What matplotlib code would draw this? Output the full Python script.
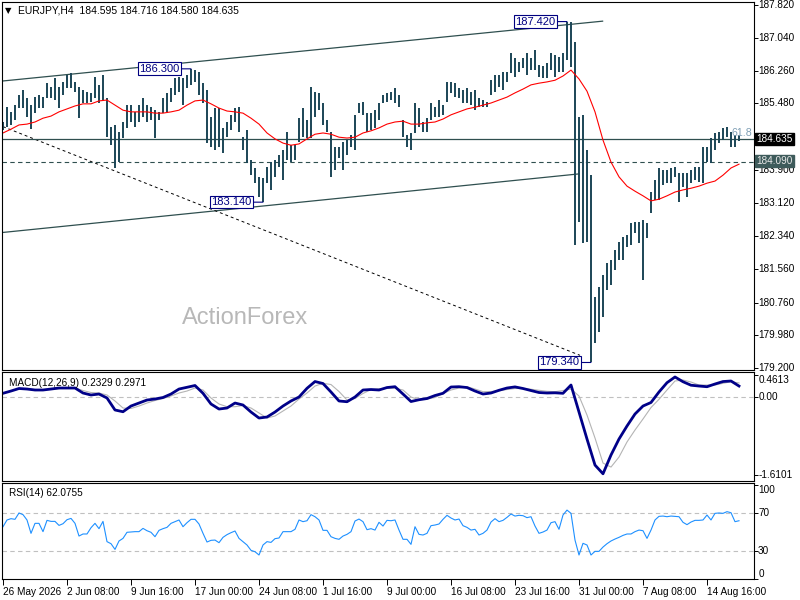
import numpy as np
import matplotlib
matplotlib.use("Agg")
import matplotlib.pyplot as plt

plt.rcParams["font.family"] = ["Liberation Sans", "DejaVu Sans"]

# ---- data (H4 bars, one entry every 2 bars) ----
highs = [
    185.04, 185.40, 185.28, 185.44, 185.68, 185.80, 185.61, 185.44, 185.63, 185.68,
    185.63, 185.96, 185.87, 186.08, 185.87, 185.99, 186.15, 186.20, 185.99, 185.87,
    185.80, 185.75, 185.73, 186.11, 185.92, 186.15, 185.61, 184.92, 184.97, 184.80,
    185.04, 185.44, 185.44, 185.28, 185.44, 185.61, 185.44, 185.40, 185.32, 185.28,
    185.61, 185.73, 185.85, 186.08, 186.11, 186.08, 186.15, 186.30, 186.28, 186.22,
    185.96, 185.80, 185.16, 185.37, 185.37, 184.90, 185.04, 185.21, 185.37, 185.40,
    184.68, 184.85, 184.14, 183.95, 183.74, 183.71, 183.97, 184.09, 184.14, 184.26,
    184.38, 184.80, 184.49, 184.49, 185.13, 185.37, 185.09, 185.87, 185.75, 185.73,
    185.49, 185.09, 184.80, 184.45, 184.45, 184.57, 184.61, 184.73, 185.21, 185.49,
    185.51, 185.25, 185.25, 185.32, 185.49, 185.68, 185.73, 185.75, 185.85, 185.68,
    185.09, 184.73, 184.78, 185.49, 185.37, 185.04, 185.13, 185.49, 185.40, 185.56,
    185.44, 185.99, 185.99, 185.96, 185.85, 185.80, 185.85, 185.75, 185.80, 185.61,
    185.56, 185.51, 186.04, 186.15, 186.15, 186.22, 186.22, 186.67, 186.56, 186.46,
    186.56, 186.67, 186.56, 186.75, 186.39, 186.37, 186.44, 186.67, 186.63, 186.58,
    186.67, 187.42, 187.40, 186.94, 185.16, 185.21, 184.38, 183.78, 180.89, 181.13,
    181.41, 181.70, 181.77, 182.01, 182.20, 182.31, 182.36, 182.65, 182.67, 182.67,
    182.72, 182.65, 183.38, 183.67, 183.95, 183.90, 183.90, 183.95, 183.97, 183.83,
    183.83, 183.83, 183.90, 183.97, 183.97, 184.45, 184.45, 184.66, 184.78, 184.80,
    184.90, 184.92, 184.80, 184.73, 184.72,
]
lows = [
    184.85, 184.92, 184.97, 185.09, 185.37, 185.37, 185.16, 184.87, 185.25, 185.37,
    185.37, 185.61, 185.61, 185.56, 185.37, 185.68, 185.85, 185.85, 185.75, 185.13,
    185.49, 185.49, 185.51, 185.61, 185.49, 185.56, 184.68, 184.49, 183.95, 184.09,
    184.66, 184.90, 185.04, 184.92, 185.04, 185.16, 185.04, 185.09, 184.66, 185.09,
    185.25, 185.28, 185.51, 185.68, 185.75, 185.44, 185.85, 185.92, 185.99, 185.68,
    185.49, 184.54, 184.45, 184.38, 184.45, 184.31, 184.68, 184.85, 185.04, 184.80,
    184.38, 184.07, 183.78, 183.59, 183.26, 183.14, 183.59, 183.43, 183.74, 183.97,
    183.67, 184.14, 184.09, 184.14, 184.57, 184.68, 184.66, 184.66, 185.16, 185.32,
    184.97, 184.80, 183.74, 183.90, 184.19, 183.90, 184.26, 184.45, 184.38, 185.25,
    185.21, 184.80, 184.85, 184.90, 185.09, 185.49, 185.51, 185.56, 185.49, 185.40,
    184.68, 184.45, 184.38, 184.78, 184.92, 184.80, 184.80, 185.09, 185.16, 185.16,
    185.21, 185.51, 185.73, 185.63, 185.61, 185.49, 185.49, 185.44, 185.32, 185.40,
    185.40, 185.40, 185.68, 185.75, 185.87, 185.80, 185.99, 186.20, 186.11, 186.22,
    186.32, 186.15, 186.27, 186.27, 186.11, 186.08, 186.08, 186.27, 186.11, 186.22,
    186.22, 186.51, 186.34, 182.12, 182.67, 182.17, 182.20, 179.34, 179.80, 180.06,
    180.42, 181.06, 181.18, 181.53, 181.77, 181.77, 182.08, 182.12, 182.41, 182.17,
    181.30, 182.29, 182.88, 183.19, 183.19, 183.55, 183.59, 183.59, 183.74, 183.14,
    183.50, 183.26, 183.59, 183.67, 183.62, 183.59, 184.09, 184.07, 184.38, 184.54,
    184.61, 184.68, 184.45, 184.45, 184.58,
]

# moving average, MACD and signal: one value every 4 bars
ma = [
    184.78, 184.87, 184.97, 184.99, 185.04, 185.13, 185.18, 185.28, 185.35, 185.42,
    185.47, 185.47, 185.54, 185.56, 185.44, 185.32, 185.28, 185.28, 185.28, 185.25,
    185.25, 185.28, 185.32, 185.44, 185.54, 185.56, 185.47, 185.37, 185.30, 185.28,
    185.25, 185.13, 184.99, 184.78, 184.64, 184.54, 184.49, 184.52, 184.64, 184.75,
    184.78, 184.75, 184.68, 184.66, 184.68, 184.78, 184.83, 184.90, 184.99, 185.04,
    185.06, 184.99, 184.99, 185.02, 185.04, 185.11, 185.21, 185.28, 185.35, 185.39,
    185.44, 185.49, 185.56, 185.63, 185.73, 185.82, 185.92, 185.96, 185.99, 186.03,
    186.13, 186.27, 186.06, 185.77, 185.28, 184.61, 184.09, 183.74, 183.52, 183.40,
    183.29, 183.17, 183.21, 183.29, 183.38, 183.43, 183.47, 183.52, 183.59, 183.64,
    183.78, 183.95, 184.04,
]
macd = [
    0.083, 0.130, 0.182, 0.171, 0.151, 0.151, 0.171, 0.192, 0.192, 0.192,
    0.089, 0.048, 0.068, -0.014, -0.262, -0.298, -0.180, -0.118, -0.056, -0.035,
    -0.004, 0.068, 0.171, 0.207, 0.244, 0.083, -0.138, -0.242, -0.221, -0.118,
    -0.159, -0.304, -0.428, -0.407, -0.304, -0.180, -0.076, 0.006, 0.186, 0.326,
    0.285, 0.110, -0.076, -0.091, 0.006, 0.151, 0.161, 0.151, 0.202, 0.219,
    0.068, -0.087, -0.050, -0.025, 0.037, 0.083, 0.213, 0.219, 0.202, 0.130,
    0.068, 0.089, 0.145, 0.192, 0.215, 0.182, 0.140, 0.099, 0.089, 0.093,
    0.083, 0.254, -0.304, -0.862, -1.400, -1.580, -1.192, -0.862, -0.593, -0.345,
    -0.180, -0.107, 0.110, 0.302, 0.420, 0.322, 0.250, 0.233, 0.219, 0.275,
    0.326, 0.337, 0.233,
]
signal = [
    0.089, 0.130, 0.171, 0.171, 0.161, 0.161, 0.171, 0.182, 0.192, 0.192,
    0.140, 0.099, 0.089, 0.048, -0.076, -0.221, -0.231, -0.180, -0.118, -0.066,
    -0.025, 0.027, 0.089, 0.130, 0.192, 0.151, -0.014, -0.138, -0.194, -0.194,
    -0.169, -0.221, -0.324, -0.428, -0.386, -0.283, -0.180, -0.035, 0.089, 0.233,
    0.289, 0.264, 0.120, -0.056, -0.025, 0.079, 0.161, 0.178, 0.186, 0.186,
    0.151, 0.006, -0.050, -0.035, -0.004, 0.079, 0.151, 0.192, 0.219, 0.171,
    0.116, 0.120, 0.136, 0.161, 0.182, 0.182, 0.167, 0.145, 0.124, 0.116,
    0.140, 0.171, 0.027, -0.366, -0.841, -1.358, -1.441, -1.234, -0.923, -0.676,
    -0.448, -0.211, -0.041, 0.151, 0.337, 0.357, 0.316, 0.254, 0.254, 0.254,
    0.289, 0.322, 0.297,
]
# RSI(14): one value every 2 bars
rsi = [
    55.7, 62.9, 64.3, 63.6, 70.4, 68.6, 62.9, 48.6, 59.3, 59.3,
    50.4, 62.5, 61.4, 61.4, 57.1, 58.9, 63.2, 64.6, 59.3, 45.7,
    47.9, 47.9, 54.6, 59.3, 53.6, 61.4, 39.7, 37.5, 31.4, 40.4,
    43.2, 49.7, 50.0, 50.4, 50.4, 53.9, 51.4, 49.7, 45.0, 51.8,
    53.6, 55.0, 59.3, 61.1, 62.9, 55.7, 60.0, 63.6, 63.6, 58.6,
    48.6, 39.3, 41.1, 41.4, 38.6, 44.3, 47.2, 49.3, 51.1, 43.2,
    39.7, 36.1, 30.4, 28.9, 25.4, 36.1, 39.7, 38.9, 42.9, 43.6,
    50.4, 50.4, 50.4, 52.9, 62.9, 61.1, 62.1, 68.6, 66.4, 62.9,
    51.8, 51.8, 45.0, 43.2, 42.2, 45.7, 47.5, 50.4, 61.8, 63.9,
    61.1, 52.5, 53.6, 52.1, 60.4, 56.4, 62.5, 62.1, 62.9, 52.1,
    42.2, 42.2, 36.8, 55.7, 47.5, 46.8, 48.6, 56.8, 57.5, 58.6,
    63.6, 67.9, 65.0, 62.9, 63.9, 56.8, 55.0, 52.1, 52.9, 46.8,
    48.6, 52.1, 60.7, 64.3, 61.1, 62.5, 65.7, 69.3, 67.1, 67.9,
    67.5, 65.4, 66.4, 56.4, 48.6, 50.0, 52.1, 60.0, 61.1, 52.9,
    68.2, 73.5, 70.0, 41.4, 25.4, 37.9, 36.1, 25.4, 29.3, 29.3,
    33.9, 37.5, 40.4, 42.5, 44.3, 46.4, 47.9, 47.9, 50.4, 52.1,
    51.4, 43.2, 52.1, 62.9, 66.8, 67.1, 66.4, 67.1, 66.8, 66.4,
    60.4, 57.9, 60.7, 62.5, 62.5, 62.9, 68.2, 62.9, 70.0, 70.4,
    70.0, 71.8, 70.7, 61.1, 62.08,
]

# trend lines (bar index, price)
chan_up_t, chan_up_p = [-0.5, 299.8], [186.01, 187.43]
chan_dn_t, chan_dn_p = [-0.5, 288.0], [182.42, 183.81]
trend_t, trend_p = [0.0, 288.5], [184.93, 179.51]

# swing labels: (bar index, price, text)
swing_bar = [94, 130, 282, 294]
swing_price = [186.30, 183.14, 187.42, 179.34]
swing_text = ["186.300", "183.140", "187.420", "179.340"]

last_price = 184.635
level_price = 184.090

price_ticks = [187.82, 187.04, 186.26, 185.48, 183.90, 183.12, 182.34, 181.56,
               180.76, 179.98, 179.20]
price_tick_labels = ["187.820", "187.040", "186.260", "185.480", "183.900",
                     "183.120", "182.340", "181.560", "180.760", "179.980",
                     "179.200"]

date_pos = [0, 32, 64, 96, 128, 160, 192, 224, 256, 288, 320, 352]
date_labels = ["26 May 2026", "2 Jun 08:00", "9 Jun 16:00", "17 Jun 00:00",
               "24 Jun 08:00", "1 Jul 16:00", "9 Jul 00:00", "16 Jul 08:00",
               "23 Jul 16:00", "31 Jul 00:00", "7 Aug 08:00", "14 Aug 16:00"]

bar_col = "#1b4556"
line_col = "#2f4f4f"
navy = "#000080"
fs = 7.2

x_bars = np.arange(len(highs)) * 2
x_ind = np.arange(len(ma)) * 4
x_rsi = np.arange(len(rsi)) * 2

W, H = 800, 600
fig = plt.figure(figsize=(8, 6), dpi=100)


def panel(top, bottom):
    return fig.add_axes([2 / W, (H - bottom) / H, 752 / W, (bottom - top) / H])


ax1 = panel(2, 370)
ax2 = panel(372, 481)
ax3 = panel(483, 579)

for ax in (ax1, ax2, ax3):
    ax.set_xlim(-0.5, 375.5)
    for s in ax.spines.values():
        s.set_linewidth(0.8)
        s.set_color("black")
    ax.yaxis.tick_right()
    ax.tick_params(axis="y", length=3, width=0.7, labelright=False, labelleft=False)
    ax.tick_params(axis="x", bottom=False, labelbottom=False)

# ===== price panel =====
ax1.set_ylim(179.162, 187.884)
ax1.plot(chan_up_t, chan_up_p, color=line_col, lw=0.9)
ax1.plot(chan_dn_t, chan_dn_p, color=line_col, lw=0.9)
ax1.plot(trend_t, trend_p, color="black", lw=0.7, ls=(0, (3, 3)))
ax1.axhline(last_price, color=line_col, lw=0.9)
ax1.axhline(level_price, color=line_col, lw=0.8, ls=(0, (4, 3)))
ax1.vlines(x_bars, lows, highs, color=bar_col, lw=1.4)
ax1.plot(x_ind, ma, color="red", lw=0.8)

for b, p, t in zip(swing_bar, swing_price, swing_text):
    ax1.annotate(t, xy=(b, p), xytext=(-8.5, 0), textcoords="offset points",
                 ha="right", va="center", fontsize=8, color=navy,
                 bbox=dict(boxstyle="square,pad=0.12", fc="white", ec=navy, lw=0.8),
                 arrowprops=dict(arrowstyle="-", color=navy, lw=0.8,
                                 shrinkA=0, shrinkB=0))

ax1.text(0.998, 184.79, "61.8", transform=ax1.get_yaxis_transform(),
         ha="right", va="center", fontsize=fs + 0.5, color="#7f9fb5")
ax1.text(0.323, 0.141, "ActionForex", transform=ax1.transAxes, ha="center",
         va="center", fontsize=17, color="#b8b8b8")

ax1.set_yticks(price_ticks)
yax = ax1.get_yaxis_transform()
for v, s in zip(price_ticks, price_tick_labels):
    ax1.text(1.0055, v, s, transform=yax, ha="left", va="center", fontsize=fs)
ax1.text(1.0035, last_price, "184.635", transform=yax, ha="left", va="center",
         fontsize=fs, color="white",
         bbox=dict(boxstyle="square,pad=0.14", fc="black", ec="black"))
ax1.text(1.0035, level_price + 0.02, "184.090", transform=yax, ha="left",
         va="center", fontsize=fs, color="#e8e8e8",
         bbox=dict(boxstyle="square,pad=0.12", fc="#3e5b5b", ec="#3e5b5b"))

fig.text(5 / W, 1 - 10.5 / H, "\u25bc", fontsize=6, va="center",
         family="DejaVu Sans")
fig.text(18 / W, 1 - 10.5 / H, "EURJPY,H4  184.595 184.716 184.580 184.635",
         fontsize=fs + 0.3, va="center")

# ===== MACD panel =====
ax2.set_ylim(-1.729, 0.523)
ax2.axhline(0, color="#c0c0c0", lw=0.8, ls=(0, (4, 3)))
ax2.plot(x_ind, signal, color="#b4b4b4", lw=0.8)
ax2.plot(x_ind, macd, color="#000088", lw=2.0)
ax2.set_yticks([0.4613, 0.0, -1.6101])
y2 = ax2.get_yaxis_transform()
ax2.text(1.0055, 0.4613, "0.4613", transform=y2, ha="left", va="top", fontsize=fs)
ax2.text(1.0055, 0.0, "0.00", transform=y2, ha="left", va="center", fontsize=fs)
ax2.text(1.0055, -1.6101, "-1.6101", transform=y2, ha="left", va="center", fontsize=fs)
ax2.text(7 / 752, 0.9, "MACD(12,26,9) 0.2329 0.2971", transform=ax2.transAxes,
         ha="left", va="center", fontsize=fs)

# ===== RSI panel =====
ax3.set_ylim(-0.3, 102.5)
ax3.axhline(70, color="#c0c0c0", lw=0.8, ls=(0, (4, 3)))
ax3.axhline(30, color="#c0c0c0", lw=0.8, ls=(0, (4, 3)))
ax3.plot(x_rsi, rsi, color="#1e90ff", lw=0.8)
ax3.set_yticks([100, 70, 30, 0])
y3 = ax3.get_yaxis_transform()
ax3.text(1.0055, 100, "100", transform=y3, ha="left", va="top", fontsize=fs)
ax3.text(1.0055, 70, "70", transform=y3, ha="left", va="center", fontsize=fs)
ax3.text(1.0055, 30, "30", transform=y3, ha="left", va="center", fontsize=fs)
ax3.text(1.0055, 0, "0", transform=y3, ha="left", va="bottom", fontsize=fs)
ax3.text(7 / 752, 0.9, "RSI(14) 62.0755", transform=ax3.transAxes,
         ha="left", va="center", fontsize=fs)

ax3.set_xticks(date_pos)
ax3.set_xticklabels(date_labels, ha="left", fontsize=fs)
ax3.tick_params(axis="x", bottom=True, labelbottom=True, length=4, width=0.7, pad=1.5)

fig.savefig("out.png", dpi=100)
